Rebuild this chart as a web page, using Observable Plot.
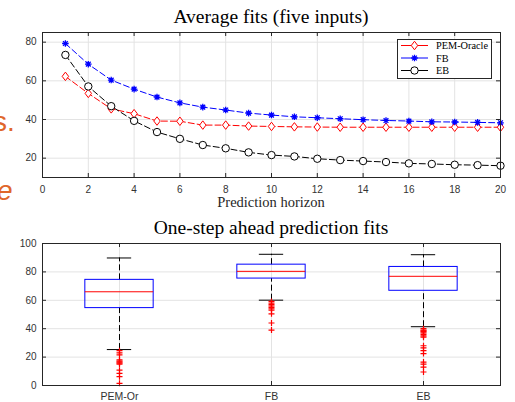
<!DOCTYPE html>
<html><head><meta charset="utf-8">
<script src="https://cdn.jsdelivr.net/npm/d3@7"></script>
<script src="https://cdn.jsdelivr.net/npm/@observablehq/plot@0.6"></script>
<style>
body{margin:0;background:#fff;}
#wrap{position:relative;width:515px;height:402px;overflow:hidden;background:#fff;}
.frag{position:absolute;color:#e0662a;font-family:"Liberation Sans",Arial,sans-serif;font-size:28px;line-height:1;white-space:nowrap;}
</style></head><body><div id="wrap"></div>
<script>
// ---- Top chart data: average fits vs prediction horizon ----
const horizon = [1,2,3,4,5,6,7,8,9,10,11,12,13,14,15,16,17,18,19,20];
const pemOracle = [62.3,53.5,45.5,43.0,39.2,39.1,37.1,37.1,36.6,36.4,36.2,36.1,36.0,36.0,36.0,36.0,36.0,36.0,36.0,36.0];
const fb = [79.3,68.6,60.4,55.7,51.6,48.6,46.4,44.9,43.3,42.3,41.4,40.9,40.4,39.9,39.5,39.2,38.8,38.7,38.5,38.3];
const eb = [73.4,57.1,46.9,39.3,33.5,30.0,26.8,25.1,23.0,21.6,20.9,19.7,19.0,18.5,18.0,17.3,17.0,16.6,16.4,16.1];
const seriesNames = ["PEM-Oracle","FB","EB"];
const xTicks = [0,2,4,6,8,10,12,14,16,18,20];
const yTicks = [20,40,60,80];

// ---- Bottom chart data: one-step ahead prediction fits (box plot) ----
const methods = ["PEM-Or","FB","EB"];
const whiskerLow = [25.3,60.1,41.4];
const q1 = [54.5,75.3,66.7];
const median = [66.0,80.4,76.9];
const q3 = [74.4,85.1,83.5];
const whiskerHigh = [89.8,92.4,92.1];
const outliersPEM = [24.5,23.0,21.5,18.0,17.2,16.5,15.8,15.0,10.8,8.5,6.2,1.5];
const outliersFB = [59.2,58.0,57.0,56.0,55.0,54.0,53.0,50.5,44.0,39.0];
const outliersEB = [40.0,39.0,38.5,38.0,37.0,36.0,35.0,34.0,28.0,26.5,24.5,22.5,16.5,15.0,13.0,9.5];
const boxYTicks = [0,20,40,60,80,100];

// ---- symbols ----
const diamondTall = {draw(ctx, size){const r=Math.sqrt(size/Math.PI);ctx.moveTo(0,-r*1.25);ctx.lineTo(r*0.95,0);ctx.lineTo(0,r*1.25);ctx.lineTo(-r*0.95,0);ctx.closePath();}};
const star8 = {draw(ctx, size){const r=Math.sqrt(size/Math.PI);ctx.moveTo(-r,0);ctx.lineTo(r,0);ctx.moveTo(0,-r);ctx.lineTo(0,r);const d=r*0.72;ctx.moveTo(-d,-d);ctx.lineTo(d,d);ctx.moveTo(-d,d);ctx.lineTo(d,-d);}};
const plusSym = {draw(ctx, size){const r=Math.sqrt(size/Math.PI);ctx.moveTo(-r,0);ctx.lineTo(r,0);ctx.moveTo(0,-r);ctx.lineTo(0,r);}};
const circleSym = {draw(ctx, size){const r=Math.sqrt(size/Math.PI);ctx.moveTo(r,0);ctx.arc(0,0,r,0,2*Math.PI);}};

const colors = {"PEM-Oracle":"#ff0000","FB":"#0000ff","EB":"#000000"};
const symbolsOf = {"PEM-Oracle":diamondTall,"FB":star8,"EB":circleSym};
const sizeOf = {"PEM-Oracle":3.4,"FB":3.3,"EB":3.7};

const seriesValues = {"PEM-Oracle":pemOracle,"FB":fb,"EB":eb};
const rows = seriesNames.flatMap(s => horizon.map((h,i) => ({s, h, v: seriesValues[s][i]})));

const grid = "#e3e3e3";
const axisCol = "#262626";
const W = 515;

// ---- top chart ----
const topH = 215, topMT = 32, topMB = 38, ML = 42, MR = 15;
const topFrameH = topH - topMT - topMB, frameW = W - ML - MR;
const topChart = Plot.plot({
  width: W, height: topH, marginLeft: ML, marginRight: MR, marginTop: topMT, marginBottom: topMB,
  style: {fontFamily: "'Liberation Sans', Arial, sans-serif", fontSize: "10px", color: "#333", background: "transparent", overflow: "visible"},
  x: {domain: [0,20]},
  y: {domain: [10,85]},
  marks: [
    Plot.gridX(xTicks, {stroke: grid, strokeOpacity: 1}),
    Plot.gridY(yTicks, {stroke: grid, strokeOpacity: 1}),
    Plot.axisX(xTicks, {tickSize: 0, tickPadding: 8, label: null}),
    Plot.axisY(yTicks, {tickSize: 0, tickPadding: 6, label: null}),
    Plot.tickX(xTicks, {x: d => d, insetTop: topFrameH - 4, stroke: axisCol}),
    Plot.tickX(xTicks, {x: d => d, insetBottom: topFrameH - 4, stroke: axisCol}),
    Plot.tickY(yTicks, {y: d => d, insetRight: frameW - 4, stroke: axisCol}),
    Plot.tickY(yTicks, {y: d => d, insetLeft: frameW - 4, stroke: axisCol}),
    ...seriesNames.map(s => Plot.line(rows.filter(d => d.s === s), {x: "h", y: "v", stroke: colors[s], strokeWidth: 1, strokeDasharray: "6,3"})),
    ...seriesNames.map(s => Plot.dot(rows.filter(d => d.s === s), {x: "h", y: "v", symbol: symbolsOf[s], r: sizeOf[s], stroke: colors[s], fill: s === "FB" ? "none" : "white", strokeWidth: s === "FB" ? 1.3 : 1})),
    Plot.frame({stroke: axisCol})
  ]
});
topChart.style.position = "absolute"; topChart.style.left = "0px"; topChart.style.top = "0px";

// ---- bottom chart ----
const boxes = methods.map((m,i) => ({m, lo: whiskerLow[i], q1: q1[i], med: median[i], q3: q3[i], hi: whiskerHigh[i]}));
const outlierLists = [outliersPEM, outliersFB, outliersEB];
const outRows = methods.flatMap((m,i) => outlierLists[i].map(v => ({m, v})));
const botTop = 215, botH = 187, botMT = 28, botMB = 17;
const botFrameH = botH - botMT - botMB;
const bandW = frameW / methods.length;
const boxInset = (bandW - 69) / 2, capInset = (bandW - 25) / 2;
const botChart = Plot.plot({
  width: W, height: botH, marginLeft: ML, marginRight: MR, marginTop: botMT, marginBottom: botMB,
  style: {fontFamily: "'Liberation Sans', Arial, sans-serif", fontSize: "10.5px", color: "#333", background: "transparent", overflow: "visible"},
  x: {type: "band", domain: methods, padding: 0},
  y: {domain: [0,100]},
  marks: [
    Plot.gridY(boxYTicks, {stroke: grid, strokeOpacity: 1}),
    Plot.ruleX(methods, {x: d => d, stroke: grid}),
    Plot.axisX({tickSize: 0, tickPadding: 7, label: null}),
    Plot.axisY(boxYTicks, {tickSize: 0, tickPadding: 6, label: null, fontSize: 10}),
    Plot.tickX(methods, {x: d => d, insetTop: botFrameH - 4, stroke: axisCol}),
    Plot.tickX(methods, {x: d => d, insetBottom: botFrameH - 4, stroke: axisCol}),
    Plot.tickY(boxYTicks, {y: d => d, insetRight: frameW - 4, stroke: axisCol}),
    Plot.tickY(boxYTicks, {y: d => d, insetLeft: frameW - 4, stroke: axisCol}),
    Plot.ruleX(boxes, {x: "m", y1: "q3", y2: "hi", stroke: "#000", strokeDasharray: "6,3"}),
    Plot.ruleX(boxes, {x: "m", y1: "lo", y2: "q1", stroke: "#000", strokeDasharray: "6,3"}),
    Plot.barY(boxes, {x: "m", y1: "q1", y2: "q3", fill: "none", stroke: "#0000ff", insetLeft: boxInset, insetRight: boxInset}),
    Plot.tickY(boxes, {x: "m", y: "med", stroke: "#ff0000", insetLeft: boxInset, insetRight: boxInset}),
    Plot.tickY(boxes, {x: "m", y: "hi", stroke: "#000", insetLeft: capInset, insetRight: capInset}),
    Plot.tickY(boxes, {x: "m", y: "lo", stroke: "#000", insetLeft: capInset, insetRight: capInset}),
    Plot.dot(outRows, {x: "m", y: "v", symbol: plusSym, r: 3, stroke: "#ff0000", strokeWidth: 1.2}),
    Plot.frame({stroke: axisCol})
  ]
});
botChart.style.position = "absolute"; botChart.style.left = "0px"; botChart.style.top = botTop + "px";

const wrap = document.getElementById("wrap");
wrap.appendChild(topChart);
wrap.appendChild(botChart);

// ---- overlay: titles, axis label, legend ----
const ov = d3.create("svg").attr("width", W).attr("height", 402)
  .style("position", "absolute").style("left", "0px").style("top", "0px").style("pointer-events", "none");
const serif = "'Liberation Serif', 'Times New Roman', serif";
ov.append("text").attr("x", 271).attr("y", 23).attr("text-anchor", "middle")
  .attr("font-family", serif).attr("font-size", 19.5).attr("fill", "#000").text("Average fits (five inputs)");
ov.append("text").attr("x", 271).attr("y", 206.5).attr("text-anchor", "middle")
  .attr("font-family", serif).attr("font-size", 14.5).attr("fill", "#262626").text("Prediction horizon");
ov.append("text").attr("x", 271).attr("y", 234).attr("text-anchor", "middle")
  .attr("font-family", serif).attr("font-size", 19.5).attr("fill", "#000").text("One-step ahead prediction fits");

const lg = ov.append("g");
lg.append("rect").attr("x", 397.5).attr("y", 39.5).attr("width", 94).attr("height", 39)
  .attr("fill", "#fff").attr("stroke", axisCol).attr("stroke-width", 1);
seriesNames.forEach((s, i) => {
  const y = 45.5 + i * 12.5;
  lg.append("line").attr("x1", 401).attr("x2", 428).attr("y1", y).attr("y2", y).attr("stroke", colors[s]).attr("stroke-width", 1);
  const p = d3.path(); const r = sizeOf[s]; symbolsOf[s].draw(p, Math.PI * r * r);
  lg.append("path").attr("d", p.toString()).attr("transform", `translate(414.5,${y})`)
    .attr("stroke", colors[s]).attr("fill", s === "FB" ? "none" : "#fff").attr("stroke-width", s === "FB" ? 1.3 : 1);
  lg.append("text").attr("x", 436).attr("y", y + 3.6).attr("font-family", serif).attr("font-size", 10.3).attr("fill", "#000").text(s);
});
wrap.appendChild(ov.node());

// ---- cropped slide text fragments at the left edge ----
const f1 = document.createElement("div"); f1.className = "frag"; f1.style.left = "-7px"; f1.style.top = "108px"; f1.textContent = "s."; wrap.appendChild(f1);
const f2 = document.createElement("div"); f2.className = "frag"; f2.style.left = "-3px"; f2.style.top = "177px"; f2.style.fontStyle = "italic"; f2.textContent = "e"; wrap.appendChild(f2);
</script></body></html>
